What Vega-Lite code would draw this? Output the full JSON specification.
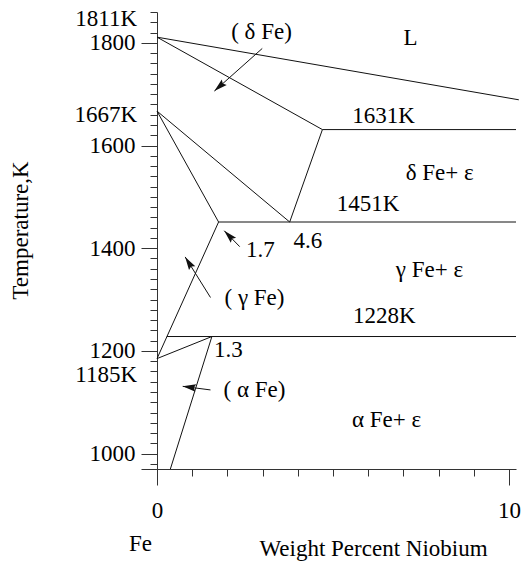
{
  "$schema": "https://vega.github.io/schema/vega-lite/v6.json",
  "width": 359,
  "height": 457,
  "autosize": {"type": "none"},
  "padding": {"left": 157, "top": 12, "right": 5, "bottom": 97},
  "config": {"view": {"stroke": null}, "font": "Liberation Serif", "background": "white"},
  "resolve": {"axis": {"x": "independent", "y": "independent"}},
  "datasets": {
    "lines": [
      {"x": 0, "t": 1811, "x2": 10.28, "t2": 1689},
      {"x": 0, "t": 1811, "x2": 4.7, "t2": 1631},
      {"x": 4.7, "t": 1631, "x2": 10.2, "t2": 1631},
      {"x": 0, "t": 1667, "x2": 3.77, "t2": 1451},
      {"x": 3.77, "t": 1451, "x2": 4.7, "t2": 1631},
      {"x": 0, "t": 1667, "x2": 1.75, "t2": 1451},
      {"x": 1.75, "t": 1451, "x2": 10.2, "t2": 1451},
      {"x": 1.75, "t": 1451, "x2": 0, "t2": 1185},
      {"x": 0.28, "t": 1228, "x2": 10.2, "t2": 1228},
      {"x": 0, "t": 1185, "x2": 1.56, "t2": 1228},
      {"x": 1.56, "t": 1228, "x2": 0.38, "t2": 970}
    ],
    "arrows": [
      {"x": 2.99, "t": 1789, "x2": 1.63, "t2": 1706},
      {"x": 2.35, "t": 1403, "x2": 1.91, "t2": 1434},
      {"x": 1.52, "t": 1304, "x2": 0.8, "t2": 1383},
      {"x": 1.52, "t": 1124, "x2": 0.73, "t2": 1131}
    ],
    "labels": [
      {"x": 2.97, "t": 1822, "label": "( δ Fe)"},
      {"x": 7.2, "t": 1810, "label": "L"},
      {"x": 6.44, "t": 1657, "label": "1631K"},
      {"x": 8.03, "t": 1547, "label": "δ Fe+ ε"},
      {"x": 6.0, "t": 1486, "label": "1451K"},
      {"x": 4.29, "t": 1414, "label": "4.6"},
      {"x": 2.94, "t": 1396, "label": "1.7"},
      {"x": 7.74, "t": 1357, "label": "γ Fe+ ε"},
      {"x": 2.77, "t": 1303, "label": "( γ Fe)"},
      {"x": 6.46, "t": 1267, "label": "1228K"},
      {"x": 2.03, "t": 1201, "label": "1.3"},
      {"x": 2.77, "t": 1123, "label": "( α Fe)"},
      {"x": 6.52, "t": 1065, "label": "α Fe+ ε"},
      {"x": -0.47, "t": 823, "label": "Fe"}
    ],
    "side": [
      {"t": 1847, "label": "1811K"},
      {"t": 1659, "label": "1667K"},
      {"t": 1154, "label": "1185K"}
    ]
  },
  "layer": [
    {
      "data": {"name": "lines"},
      "mark": {"type": "rule", "color": "#111", "strokeWidth": 1},
      "encoding": {
        "x": {
          "field": "x", "type": "quantitative",
          "scale": {"domain": [0, 10.2], "nice": false, "zero": false},
          "axis": {
            "orient": "bottom",
            "values": [0, 1, 2, 3, 4, 5, 6, 7, 8, 9, 10],
            "grid": false, "labels": false,
            "domainColor": "#333", "tickColor": "#333", "tickSize": 7,
            "title": "Weight Percent Niobium",
            "titleFont": "Liberation Serif", "titleFontSize": 23, "titleFontWeight": "normal", "titleColor": "#000",
            "titleX": 216, "titleY": 79, "titleAlign": "center", "titleBaseline": "middle"
          }
        },
        "y": {
          "field": "t", "type": "quantitative",
          "scale": {"domain": [970, 1860], "nice": false, "zero": false},
          "axis": {
            "orient": "left",
            "values": [970, 980, 1000, 1020, 1040, 1060, 1080, 1100, 1120, 1140, 1160, 1180, 1200, 1220, 1240, 1260, 1280, 1300, 1320, 1340, 1360, 1380, 1400, 1420, 1440, 1460, 1480, 1500, 1520, 1540, 1560, 1580, 1600, 1620, 1640, 1660, 1680, 1700, 1720, 1740, 1760, 1780, 1800, 1820, 1840, 1860],
            "grid": false, "labels": false,
            "domainColor": "#333", "tickColor": "#333",
            "tickSize": {"condition": {"test": "datum.value == 970", "value": 16}, "value": 7},
            "title": "Temperature,K",
            "titleFont": "Liberation Serif", "titleFontSize": 23, "titleFontWeight": "normal", "titleColor": "#000",
            "titleX": -137, "titleY": 218, "titleAlign": "center", "titleBaseline": "middle", "titleAngle": -90
          }
        },
        "x2": {"field": "x2"},
        "y2": {"field": "t2"}
      }
    },
    {
      "data": {"name": "arrows"},
      "mark": {"type": "rule", "color": "#111", "strokeWidth": 1},
      "encoding": {
        "x": {
          "field": "x", "type": "quantitative",
          "scale": {"domain": [0, 10.2], "nice": false, "zero": false},
          "axis": {
            "orient": "bottom",
            "values": [0, 10],
            "grid": false, "domain": false,
            "tickColor": "#333", "tickSize": 16,
            "labelFont": "Liberation Serif", "labelFontSize": 23, "labelColor": "#000",
            "labelPadding": 14, "labelFlush": false, "labelOverlap": false,
            "title": null
          }
        },
        "y": {
          "field": "t", "type": "quantitative",
          "scale": {"domain": [970, 1860], "nice": false, "zero": false},
          "axis": {
            "orient": "left",
            "values": [1000, 1200, 1400, 1600, 1800],
            "format": "d",
            "grid": false, "domain": false,
            "tickColor": "#333", "tickSize": 16,
            "labelFont": "Liberation Serif", "labelFontSize": 23, "labelColor": "#000",
            "labelPadding": 6, "labelFlush": false, "labelOverlap": false,
            "title": null
          }
        },
        "x2": {"field": "x2"},
        "y2": {"field": "t2"}
      }
    },
    {
      "data": {"name": "arrows"},
      "transform": [
        {"calculate": "atan2((datum.x2 - datum.x) * 35.2, (datum.t2 - datum.t) * 0.5135) * 180 / PI", "as": "ang"}
      ],
      "mark": {"type": "point", "shape": "M0,0L-0.28,1L0,0.85L0.28,1Z", "filled": true, "color": "#111", "opacity": 1, "size": 700},
      "encoding": {
        "x": {"field": "x2", "type": "quantitative", "scale": {"domain": [0, 10.2], "nice": false, "zero": false}, "axis": null},
        "y": {"field": "t2", "type": "quantitative", "scale": {"domain": [970, 1860], "nice": false, "zero": false}, "axis": null},
        "angle": {"field": "ang", "type": "quantitative", "scale": null}
      }
    },
    {
      "data": {"name": "labels"},
      "mark": {"type": "text", "font": "Liberation Serif", "fontSize": 23, "color": "#000", "align": "center", "baseline": "middle"},
      "encoding": {
        "x": {"field": "x", "type": "quantitative", "scale": {"domain": [0, 10.2], "nice": false, "zero": false}, "axis": null},
        "y": {"field": "t", "type": "quantitative", "scale": {"domain": [970, 1860], "nice": false, "zero": false}, "axis": null},
        "text": {"field": "label"}
      }
    },
    {
      "data": {"name": "side"},
      "mark": {"type": "text", "font": "Liberation Serif", "fontSize": 23, "color": "#000", "align": "right", "baseline": "middle", "dx": -20},
      "encoding": {
        "x": {"datum": 0, "type": "quantitative", "scale": {"domain": [0, 10.2], "nice": false, "zero": false}, "axis": null},
        "y": {"field": "t", "type": "quantitative", "scale": {"domain": [970, 1860], "nice": false, "zero": false}, "axis": null},
        "text": {"field": "label"}
      }
    }
  ]
}
